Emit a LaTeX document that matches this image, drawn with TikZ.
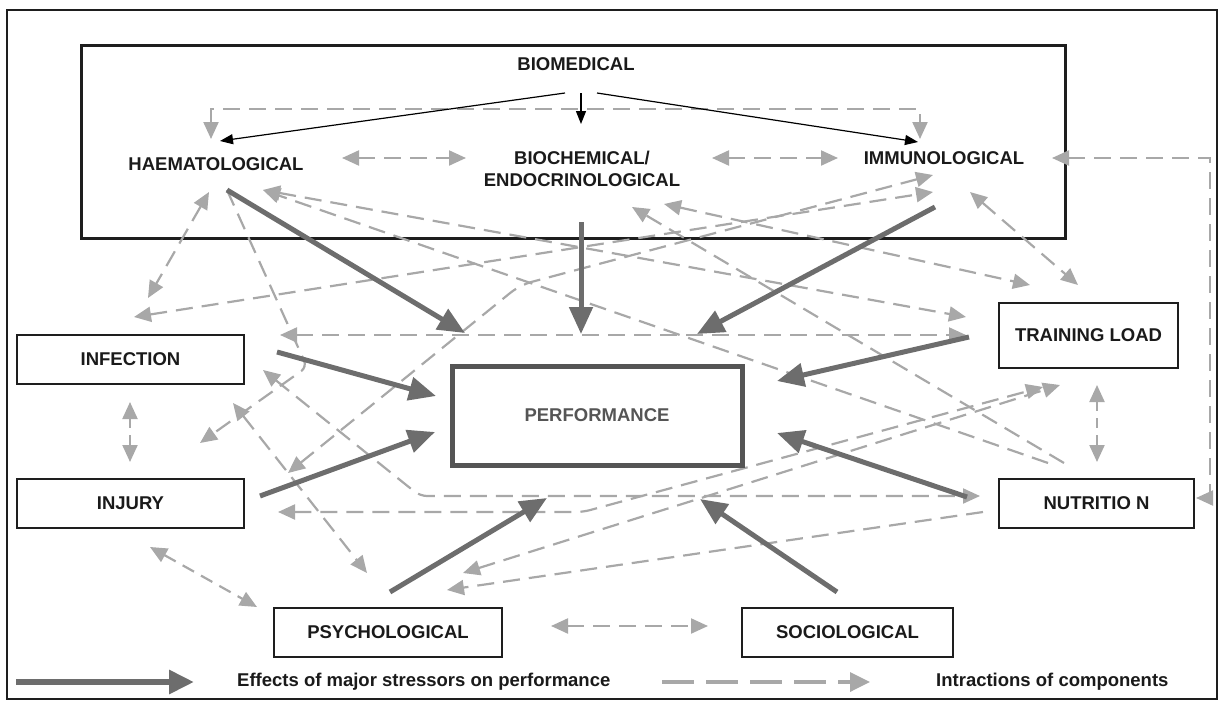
\documentclass[tikz,border=0pt]{standalone}
\usepackage{fontspec}
\setmainfont{Liberation Sans}
\usetikzlibrary{arrows.meta}
\definecolor{dashgray}{HTML}{A8A8A8}
\definecolor{thickgray}{HTML}{6D6D6D}
\definecolor{perfgray}{HTML}{555555}
\definecolor{boxc}{HTML}{1E1E1E}
\definecolor{txt}{HTML}{1A1A1A}
\tikzset{
  dtip/.tip={Triangle[length=17pt,width=15pt]},
  ttip/.tip={Triangle[length=27pt,width=23pt]},
  btip/.tip={Triangle[length=13pt,width=10pt]},
  lbl/.style={font=\bfseries\fontsize{18.5}{22}\selectfont, text=txt, inner sep=0pt, align=center},
  compbox/.style={draw=boxc, line width=2.8pt, fill=white, inner sep=0pt, font=\bfseries\fontsize{18.5}{22}\selectfont, text=txt},
  perfbox/.style={draw=perfgray, line width=5pt, fill=white, inner sep=0pt, font=\bfseries\fontsize{18.5}{22}\selectfont, text=perfgray},
  inter/.style={draw=dashgray, line width=2.2pt, dash pattern=on 17pt off 9pt, rounded corners=7pt},
  major/.style={draw=thickgray, line width=5pt, -ttip},
  thin/.style={draw=black, line width=1.2pt, -btip},
}
\begin{document}
\begin{tikzpicture}[x=1pt,y=-1pt]
\useasboundingbox (0,0) rectangle (1227,704);
% frames
\draw[line width=2pt, draw=boxc] (7,10) rectangle (1217,699);
\draw[line width=3pt, draw=boxc] (81,45) rectangle (1065,238);
% text labels in biomedical box
\node[lbl] (biomed) at (576,64) {BIOMEDICAL};
\node[lbl] (haem) at (216,164) {HAEMATOLOGICAL};
\node[lbl] (bioch) at (582,169) {BIOCHEMICAL/\\ENDOCRINOLOGICAL};
\node[lbl] (immuno) at (944,158) {IMMUNOLOGICAL};
% coordinates
\coordinate (b1s) at (565,93); \coordinate (b1e) at (220,141);
\coordinate (b2s) at (581,93); \coordinate (b2e) at (581,124);
\coordinate (b3s) at (597,93); \coordinate (b3e) at (918,142);
% dashed interactions
\coordinate (d1a) at (211,139); \coordinate (d1b) at (211,109); \coordinate (d1c) at (920,109); \coordinate (d1d) at (920,139);
\draw[inter, dtip-dtip, rounded corners=0pt] (d1a) -- (d1b) -- (d1c) -- (d1d);
\coordinate (d2a) at (342,158); \coordinate (d2b) at (466,158);
\draw[inter, dtip-dtip] (d2a) -- (d2b);
\coordinate (d3a) at (712,158); \coordinate (d3b) at (838,158);
\draw[inter, dtip-dtip] (d3a) -- (d3b);
\coordinate (d4a) at (1052,158); \coordinate (d4b) at (1210,158); \coordinate (d4c) at (1210,498); \coordinate (d4d) at (1196,498);
\draw[inter, dtip-dtip, rounded corners=0pt] (d4a) -- (d4b) -- (d4c) -- (d4d);
\coordinate (d5a) at (209,192); \coordinate (d5b) at (148,298);
\draw[inter, dtip-dtip] (d5a) -- (d5b);
\coordinate (d6a) at (134,317); \coordinate (d6b) at (933,192);
\draw[inter, dtip-dtip] (d6a) -- (d6b);
\coordinate (d7a) at (263,190); \coordinate (d7b) at (966,317);
\draw[inter, dtip-dtip] (d7a) -- (d7b);
\coordinate (d8a) at (1048,463);
\draw[inter, -dtip] (d8a) -- (d7a);
\coordinate (d9a) at (664,204); \coordinate (d9b) at (1030,285);
\draw[inter, dtip-dtip] (d9a) -- (d9b);
\coordinate (d10a) at (1064,463); \coordinate (d10b) at (632,207);
\draw[inter, -dtip] (d10a) -- (d10b);
\coordinate (d11a) at (970,192); \coordinate (d11b) at (1078,285);
\draw[inter, dtip-dtip] (d11a) -- (d11b);
\coordinate (d12a) at (280,335); \coordinate (d12b) at (966,335);
\draw[inter, dtip-dtip] (d12a) -- (d12b);
\coordinate (d13a) at (227,190); \coordinate (d13b) at (307,367); \coordinate (d13c) at (200,443);
\draw[inter, -dtip] (d13a) -- (d13b) -- (d13c);
\coordinate (d14a) at (263,370); \coordinate (d14b) at (420,496); \coordinate (d14c) at (980,496);
\draw[inter, dtip-dtip] (d14a) -- (d14b) -- (d14c);
\coordinate (d15a) at (233,403); \coordinate (d15b) at (367,573);
\draw[inter, dtip-dtip] (d15a) -- (d15b);
\coordinate (d16a) at (933,175); \coordinate (d16b) at (520,285); \coordinate (d16c) at (288,473);
\draw[inter, dtip-dtip, rounded corners=12pt] (d16a) -- (d16b) -- (d16c);
\coordinate (d17a) at (278,512); \coordinate (d17b) at (583,512); \coordinate (d17c) at (1043,387);
\draw[inter, dtip-dtip] (d17a) -- (d17b) -- (d17c);
\coordinate (d18a) at (463,573); \coordinate (d18b) at (1060,385);
\draw[inter, dtip-dtip] (d18a) -- (d18b);
\coordinate (d19a) at (983,512); \coordinate (d19b) at (447,590);
\draw[inter, -dtip] (d19a) -- (d19b);
\coordinate (d20a) at (130,402); \coordinate (d20b) at (130,462);
\draw[inter, dtip-dtip, dash pattern=on 10pt off 7pt] (d20a) -- (d20b);
\coordinate (d21a) at (150,547); \coordinate (d21b) at (257,607);
\draw[inter, dtip-dtip, dash pattern=on 13pt off 8pt] (d21a) -- (d21b);
\coordinate (d22a) at (551,626); \coordinate (d22b) at (708,626);
\draw[inter, dtip-dtip] (d22a) -- (d22b);
\coordinate (d23a) at (1097,385); \coordinate (d23b) at (1097,462);
\draw[inter, dtip-dtip, dash pattern=on 10pt off 7pt] (d23a) -- (d23b);
% thin black arrows
\draw[thin] (b1s) -- (b1e);
\draw[thin] (b2s) -- (b2e);
\draw[thin] (b3s) -- (b3e);
% component boxes
\node[compbox, minimum width=227pt, minimum height=49pt] (inf) at (130.5,359.5) {INFECTION};
\node[compbox, minimum width=227pt, minimum height=49pt] (inj) at (130.5,503.5) {INJURY};
\node[perfbox, minimum width=290pt, minimum height=99pt] (perf) at (597,415.5) {PERFORMANCE};
\node[compbox, minimum width=179pt, minimum height=65pt] (tl) at (1088.5,335.5) {TRAINING LOAD};
\node[compbox, minimum width=195pt, minimum height=49pt] (nut) at (1096.5,503.5) {NUTRITIO N};
\node[compbox, minimum width=228pt, minimum height=49pt] (psy) at (388,632.5) {PSYCHOLOGICAL};
\node[compbox, minimum width=211pt, minimum height=49pt] (soc) at (847.5,632.5) {SOCIOLOGICAL};
% major stressors
\coordinate (t1a) at (227,190); \coordinate (t1b) at (465,333);
\coordinate (t2a) at (581,222); \coordinate (t2b) at (581,334);
\coordinate (t3a) at (935,207); \coordinate (t3b) at (697,334);
\coordinate (t4a) at (969,337); \coordinate (t4b) at (777,381);
\coordinate (t5a) at (277,352); \coordinate (t5b) at (436,396);
\coordinate (t6a) at (260,496); \coordinate (t6b) at (435,432);
\coordinate (t7a) at (967,497); \coordinate (t7b) at (777,433);
\coordinate (t8a) at (390,592); \coordinate (t8b) at (547,498);
\coordinate (t9a) at (837,592); \coordinate (t9b) at (700,499);
\draw[major] (t1a) -- (t1b);
\draw[major] (t2a) -- (t2b);
\draw[major] (t3a) -- (t3b);
\draw[major] (t4a) -- (t4b);
\draw[major] (t5a) -- (t5b);
\draw[major] (t6a) -- (t6b);
\draw[major] (t7a) -- (t7b);
\draw[major] (t8a) -- (t8b);
\draw[major] (t9a) -- (t9b);
% legend
\coordinate (l1a) at (16,682); \coordinate (l1b) at (194,682);
\draw[draw=thickgray, line width=6pt, -{Triangle[length=25pt,width=23pt]}] (l1a) -- (l1b);
\node[lbl, anchor=west] (leg1) at (237,682) {Effects of major stressors on performance};
\coordinate (l2a) at (662,682); \coordinate (l2b) at (870,682);
\draw[draw=dashgray, line width=3.5pt, dash pattern=on 32pt off 12pt, -{Triangle[length=20pt,width=19pt]}] (l2a) -- (l2b);
\node[lbl, anchor=west] (leg2) at (936,682) {Intractions of components};
\end{tikzpicture}
\end{document}
